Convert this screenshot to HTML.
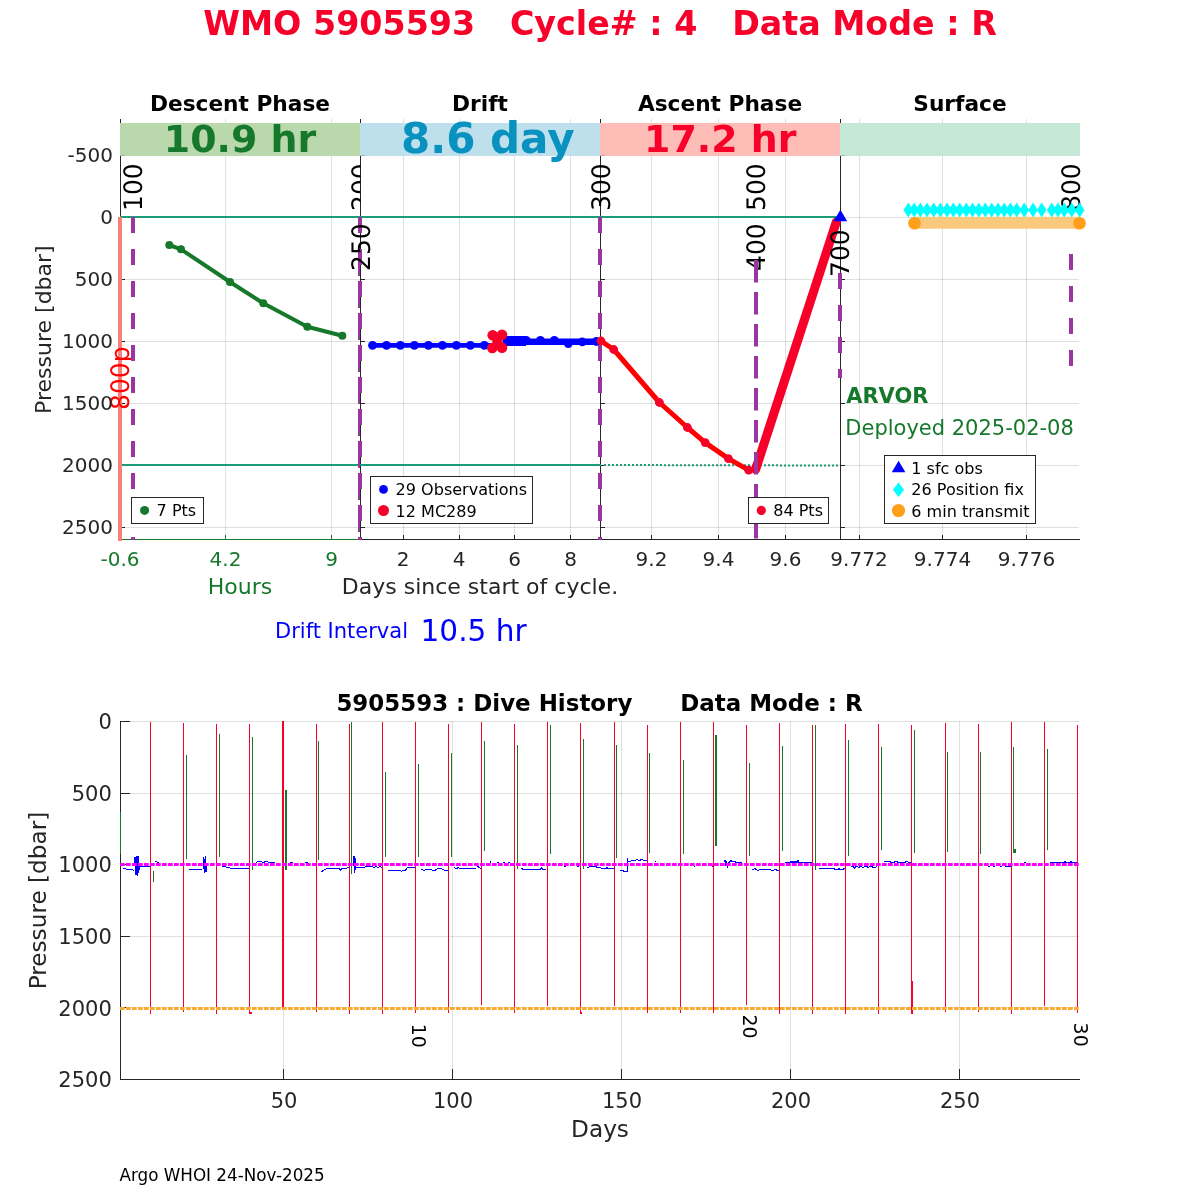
<!DOCTYPE html>
<html lang="en"><head><meta charset="utf-8"><title>WMO 5905593 Cycle 4</title>
<style>html,body{margin:0;padding:0;background:#fff}svg{display:block;will-change:transform}</style></head>
<body>
<svg width="1200" height="1200" viewBox="0 0 1200 1200" font-family="'DejaVu Sans', 'Liberation Sans', sans-serif">
<rect width="1200" height="1200" fill="#fff"/>
<text x="600" y="35" text-anchor="middle" font-size="33.3" font-weight="bold" fill="#f7002a" xml:space="preserve">WMO 5905593   Cycle# : 4   Data Mode : R</text>
<text x="240" y="111" text-anchor="middle" font-size="21.7" font-weight="bold" fill="#000">Descent Phase</text>
<text x="480" y="111" text-anchor="middle" font-size="21.7" font-weight="bold" fill="#000">Drift</text>
<text x="720" y="111" text-anchor="middle" font-size="21.7" font-weight="bold" fill="#000">Ascent Phase</text>
<text x="960" y="111" text-anchor="middle" font-size="21.7" font-weight="bold" fill="#000">Surface</text>
<g stroke="#262626" stroke-opacity="0.15" stroke-width="1" shape-rendering="crispEdges">
<line x1="120" x2="1079" y1="155.5" y2="155.5"/>
<line x1="120" x2="1079" y1="217.5" y2="217.5"/>
<line x1="120" x2="1079" y1="279.5" y2="279.5"/>
<line x1="120" x2="1079" y1="341.5" y2="341.5"/>
<line x1="120" x2="1079" y1="403.5" y2="403.5"/>
<line x1="120" x2="1079" y1="465.5" y2="465.5"/>
<line x1="120" x2="1079" y1="527.5" y2="527.5"/>
<line x1="403.5" x2="403.5" y1="119" y2="540"/>
<line x1="459.5" x2="459.5" y1="119" y2="540"/>
<line x1="514.5" x2="514.5" y1="119" y2="540"/>
<line x1="570.5" x2="570.5" y1="119" y2="540"/>
<line x1="651.5" x2="651.5" y1="119" y2="540"/>
<line x1="718.5" x2="718.5" y1="119" y2="540"/>
<line x1="785.5" x2="785.5" y1="119" y2="540"/>
<line x1="859.5" x2="859.5" y1="119" y2="540"/>
<line x1="942.5" x2="942.5" y1="119" y2="540"/>
<line x1="1026.5" x2="1026.5" y1="119" y2="540"/>
</g>
<g stroke="#15782b" stroke-opacity="0.17" stroke-width="1" shape-rendering="crispEdges">
<line x1="225.5" x2="225.5" y1="119" y2="540"/>
<line x1="331.5" x2="331.5" y1="119" y2="540"/>
</g>
<g stroke="#262626" stroke-width="1" shape-rendering="crispEdges">
<line x1="120.5" x2="120.5" y1="119" y2="540"/>
<line x1="360.5" x2="360.5" y1="119" y2="540"/>
<line x1="600.5" x2="600.5" y1="119" y2="540"/>
<line x1="840.5" x2="840.5" y1="119" y2="540"/>
<line x1="360" x2="1080" y1="539.5" y2="539.5"/>
<line x1="120" x2="125" y1="155.5" y2="155.5"/>
<line x1="120" x2="125" y1="217.5" y2="217.5"/>
<line x1="120" x2="125" y1="279.5" y2="279.5"/>
<line x1="120" x2="125" y1="341.5" y2="341.5"/>
<line x1="120" x2="125" y1="403.5" y2="403.5"/>
<line x1="120" x2="125" y1="465.5" y2="465.5"/>
<line x1="120" x2="125" y1="527.5" y2="527.5"/>
<line x1="360" x2="365" y1="155.5" y2="155.5"/>
<line x1="360" x2="365" y1="217.5" y2="217.5"/>
<line x1="360" x2="365" y1="279.5" y2="279.5"/>
<line x1="360" x2="365" y1="341.5" y2="341.5"/>
<line x1="360" x2="365" y1="403.5" y2="403.5"/>
<line x1="360" x2="365" y1="465.5" y2="465.5"/>
<line x1="360" x2="365" y1="527.5" y2="527.5"/>
<line x1="600" x2="605" y1="155.5" y2="155.5"/>
<line x1="600" x2="605" y1="217.5" y2="217.5"/>
<line x1="600" x2="605" y1="279.5" y2="279.5"/>
<line x1="600" x2="605" y1="341.5" y2="341.5"/>
<line x1="600" x2="605" y1="403.5" y2="403.5"/>
<line x1="600" x2="605" y1="465.5" y2="465.5"/>
<line x1="600" x2="605" y1="527.5" y2="527.5"/>
<line x1="840" x2="845" y1="155.5" y2="155.5"/>
<line x1="840" x2="845" y1="217.5" y2="217.5"/>
<line x1="840" x2="845" y1="279.5" y2="279.5"/>
<line x1="840" x2="845" y1="341.5" y2="341.5"/>
<line x1="840" x2="845" y1="403.5" y2="403.5"/>
<line x1="840" x2="845" y1="465.5" y2="465.5"/>
<line x1="840" x2="845" y1="527.5" y2="527.5"/>
<line x1="403.5" x2="403.5" y1="535" y2="539"/>
<line x1="459.5" x2="459.5" y1="535" y2="539"/>
<line x1="514.5" x2="514.5" y1="535" y2="539"/>
<line x1="570.5" x2="570.5" y1="535" y2="539"/>
<line x1="651.5" x2="651.5" y1="535" y2="539"/>
<line x1="718.5" x2="718.5" y1="535" y2="539"/>
<line x1="785.5" x2="785.5" y1="535" y2="539"/>
<line x1="859.5" x2="859.5" y1="535" y2="539"/>
<line x1="942.5" x2="942.5" y1="535" y2="539"/>
<line x1="1026.5" x2="1026.5" y1="535" y2="539"/>
</g>
<g stroke="#15782b" stroke-width="1" shape-rendering="crispEdges">
<line x1="120" x2="360" y1="539.5" y2="539.5"/>
<line x1="120.5" x2="120.5" y1="535" y2="539"/>
<line x1="225.5" x2="225.5" y1="535" y2="539"/>
<line x1="331.5" x2="331.5" y1="535" y2="539"/>
</g>
<rect x="120" y="123" width="240" height="32.8" fill="#b9d9ad"/>
<rect x="360" y="123" width="240" height="32.8" fill="#bde0ec"/>
<rect x="600" y="123" width="240" height="32.8" fill="#fdbcb6"/>
<rect x="840" y="123" width="240" height="32.8" fill="#c5e8d6"/>
<text x="240" y="152" text-anchor="middle" font-size="37.9" font-weight="bold" fill="#15782b">10.9 hr</text>
<text x="487.8" y="153.3" text-anchor="middle" font-size="42" font-weight="bold" fill="#0991bf">8.6 day</text>
<text x="720.2" y="152" text-anchor="middle" font-size="37.9" font-weight="bold" fill="#f7002a">17.2 hr</text>
<line x1="120" x2="840" y1="217" y2="217" stroke="#1b9c78" stroke-width="2"/>
<line x1="120" x2="601" y1="465" y2="465" stroke="#1b9c78" stroke-width="2"/>
<line x1="604" x2="838" y1="465" y2="465.5" stroke="#1b9c78" stroke-width="2" stroke-dasharray="2 2"/>
<line x1="120" x2="120" y1="217" y2="541" stroke="#f9807a" stroke-width="4"/>
<defs><clipPath id="c200"><rect x="100" y="100" width="260.5" height="450"/></clipPath><clipPath id="c800"><rect x="840" y="100" width="240.5" height="450"/></clipPath></defs>
<g><text transform="translate(765.2,271) rotate(-90) scale(1,1.02)" text-rendering="geometricPrecision" font-size="25" fill="#000">400</text></g>
<g><text transform="translate(1080.2,211) rotate(-90) scale(1,1.02)" text-rendering="geometricPrecision" font-size="25" fill="#000">800</text></g>
<polyline fill="none" stroke="#15782b" stroke-width="4" stroke-linejoin="round" points="169.3,245 181,249.3 230,282 263.3,303.3 307.3,326.7 342.3,335.7"/>
<circle cx="169.3" cy="245" r="4" fill="#15782b"/>
<circle cx="181" cy="249.3" r="4" fill="#15782b"/>
<circle cx="230" cy="282" r="4" fill="#15782b"/>
<circle cx="263.3" cy="303.3" r="4" fill="#15782b"/>
<circle cx="307.3" cy="326.7" r="4" fill="#15782b"/>
<circle cx="342.3" cy="335.7" r="4" fill="#15782b"/>
<line x1="372.5" x2="492" y1="345.4" y2="345.4" stroke="#0000ff" stroke-width="4.6"/>
<line x1="503" x2="597" y1="341.7" y2="341.7" stroke="#0000ff" stroke-width="6.4"/>
<line x1="503" x2="526" y1="341" y2="341" stroke="#0000ff" stroke-width="10"/>
<circle cx="372.5" cy="345.3" r="4.4" fill="#0000ff"/>
<circle cx="386.5" cy="345.3" r="4.4" fill="#0000ff"/>
<circle cx="400.4" cy="345.3" r="4.4" fill="#0000ff"/>
<circle cx="414.4" cy="345.3" r="4.4" fill="#0000ff"/>
<circle cx="428.4" cy="345.3" r="4.4" fill="#0000ff"/>
<circle cx="442.4" cy="345.3" r="4.4" fill="#0000ff"/>
<circle cx="456.4" cy="345.3" r="4.4" fill="#0000ff"/>
<circle cx="470.4" cy="345.3" r="4.4" fill="#0000ff"/>
<circle cx="484.4" cy="345.3" r="4.4" fill="#0000ff"/>
<circle cx="526.25" cy="340.3" r="4.4" fill="#0000ff"/>
<circle cx="540.4" cy="340.3" r="4.4" fill="#0000ff"/>
<circle cx="554.3" cy="340.3" r="4.4" fill="#0000ff"/>
<circle cx="568.3" cy="343.6" r="4.4" fill="#0000ff"/>
<circle cx="582.3" cy="341.9" r="4.4" fill="#0000ff"/>
<circle cx="596.25" cy="341.5" r="4.4" fill="#0000ff"/>
<circle cx="492.7" cy="335.2" r="5.3" fill="#f7002a"/>
<circle cx="502" cy="334.7" r="5.3" fill="#f7002a"/>
<circle cx="492.3" cy="348" r="5.3" fill="#f7002a"/>
<circle cx="502" cy="347.8" r="5.3" fill="#f7002a"/>
<circle cx="497.5" cy="341.5" r="5.3" fill="#f7002a"/>
<polyline fill="none" stroke="#ff0000" stroke-width="5" stroke-linejoin="round" points="601,341 613.7,349.5 659.4,402.5 687.4,427.5 705.2,442.6 728.4,458.6 748.7,470.2"/>
<circle cx="601" cy="341" r="4.4" fill="#f7002a"/>
<circle cx="613.7" cy="349.5" r="4.4" fill="#f7002a"/>
<circle cx="659.4" cy="402.5" r="4.4" fill="#f7002a"/>
<circle cx="687.4" cy="427.5" r="4.4" fill="#f7002a"/>
<circle cx="705.2" cy="442.6" r="4.4" fill="#f7002a"/>
<circle cx="728.4" cy="458.6" r="4.4" fill="#f7002a"/>
<circle cx="748.7" cy="470.2" r="4.4" fill="#f7002a"/>
<line x1="755.6" y1="469.5" x2="836.3" y2="222" stroke="#f7002a" stroke-width="9" stroke-linecap="round"/>
<g><text transform="translate(129.3,410) rotate(-90) scale(1,1.02)" text-rendering="geometricPrecision" font-size="25" fill="#ff0000">800p</text></g>
<line x1="133" x2="133" y1="217" y2="540" stroke="#9b35a0" stroke-width="4" stroke-dasharray="16 16"/>
<path d="M359 217V233M359 249V276M359 281V308M359 313V340M359 345V372M359 377V404M359 409V436M359 441V468M359 473V500M359 505V532M359 537V540" stroke="#9b35a0" stroke-width="2" fill="none"/>
<line x1="361" x2="361" y1="217" y2="540" stroke="#9b35a0" stroke-width="2" stroke-dasharray="16 16"/>
<line x1="600" x2="600" y1="217" y2="540" stroke="#9b35a0" stroke-width="4" stroke-dasharray="16 16"/>
<line x1="756" x2="756" y1="260" y2="540" stroke="#9b35a0" stroke-width="4" stroke-dasharray="22.5 9.5"/>
<line x1="840" x2="840" y1="273" y2="378" stroke="#9b35a0" stroke-width="4" stroke-dasharray="16 16"/>
<line x1="1071" x2="1071" y1="254" y2="366" stroke="#9b35a0" stroke-width="4" stroke-dasharray="16 16"/>
<g><text transform="translate(142,211) rotate(-90) scale(1,1.02)" text-rendering="geometricPrecision" font-size="25" fill="#000">100</text></g>
<g clip-path="url(#c200)"><text transform="translate(369.5,211) rotate(-90) scale(1,1.02)" text-rendering="geometricPrecision" font-size="25" fill="#000">200</text></g>
<g><text transform="translate(369.5,271) rotate(-90) scale(1,1.02)" text-rendering="geometricPrecision" font-size="25" fill="#000">250</text></g>
<g><text transform="translate(609.5,211) rotate(-90) scale(1,1.02)" text-rendering="geometricPrecision" font-size="25" fill="#000">300</text></g>
<g><text transform="translate(765.2,211) rotate(-90) scale(1,1.02)" text-rendering="geometricPrecision" font-size="25" fill="#000">500</text></g>
<g><text transform="translate(849,277) rotate(-90) scale(1,1.02)" text-rendering="geometricPrecision" font-size="25" fill="#000">700</text></g>
<polygon points="833.5,221.3 847.2,221.3 840.4,209.8" fill="#0000ff"/>
<line x1="914.5" x2="1079.5" y1="222.8" y2="222.8" stroke="#fbc97c" stroke-width="12"/>
<circle cx="914.5" cy="223.2" r="6.3" fill="#ff9f1a"/><circle cx="1079.5" cy="223.2" r="6.3" fill="#ff9f1a"/>
<path d="M903.5 210L908.3 202.5L913.1 210L908.3 217.5ZM909.4 210L914.2 202.5L919.0 210L914.2 217.5ZM915.5 210L920.3 202.5L925.1 210L920.3 217.5ZM922.2 210L927.0 202.5L931.8 210L927.0 217.5ZM928.9 210L933.7 202.5L938.5 210L933.7 217.5ZM935.5 210L940.3 202.5L945.1 210L940.3 217.5ZM942.2 210L947.0 202.5L951.8 210L947.0 217.5ZM948.5 210L953.3 202.5L958.1 210L953.3 217.5ZM954.9 210L959.7 202.5L964.5 210L959.7 217.5ZM961.5 210L966.3 202.5L971.1 210L966.3 217.5ZM967.7 210L972.5 202.5L977.3 210L972.5 217.5ZM974.0 210L978.8 202.5L983.6 210L978.8 217.5ZM980.5 210L985.3 202.5L990.1 210L985.3 217.5ZM986.9 210L991.7 202.5L996.5 210L991.7 217.5ZM993.2 210L998.0 202.5L1002.8 210L998.0 217.5ZM999.4 210L1004.2 202.5L1009.0 210L1004.2 217.5ZM1005.5 210L1010.3 202.5L1015.1 210L1010.3 217.5ZM1011.9 210L1016.7 202.5L1021.5 210L1016.7 217.5ZM1019.4 210L1024.2 202.5L1029.0 210L1024.2 217.5ZM1028.2 210L1033.0 202.5L1037.8 210L1033.0 217.5ZM1036.9 210L1041.7 202.5L1046.5 210L1041.7 217.5ZM1046.9 210L1051.7 202.5L1056.5 210L1051.7 217.5ZM1053.2 210L1058.0 202.5L1062.8 210L1058.0 217.5ZM1059.4 210L1064.2 202.5L1069.0 210L1064.2 217.5ZM1066.9 210L1071.7 202.5L1076.5 210L1071.7 217.5ZM1074.9 210L1079.7 202.5L1084.5 210L1079.7 217.5Z" fill="#00ffff"/>
<text x="846.2" y="402.7" font-size="21" font-weight="bold" fill="#15782b">ARVOR</text>
<text x="845.3" y="434.7" font-size="21" fill="#15782b">Deployed 2025-02-08</text>
<rect x="131.5" y="497.5" width="72" height="26" fill="#fff" stroke="#262626" stroke-width="1" shape-rendering="crispEdges"/>
<circle cx="144.6" cy="510.4" r="4.5" fill="#15782b"/>
<text x="156.6" y="516" font-size="16.05" fill="#000">7 Pts</text>
<rect x="370.5" y="476.5" width="162" height="47" fill="#fff" stroke="#262626" stroke-width="1" shape-rendering="crispEdges"/>
<circle cx="383.5" cy="489.4" r="4.4" fill="#0000ff"/>
<text x="395.6" y="495" font-size="16.05" fill="#000">29 Observations</text>
<circle cx="383.5" cy="510.5" r="5.5" fill="#f7002a"/>
<text x="395.6" y="516.7" font-size="16.05" fill="#000">12 MC289</text>
<rect x="748.5" y="497.5" width="80" height="26" fill="#fff" stroke="#262626" stroke-width="1" shape-rendering="crispEdges"/>
<circle cx="761.3" cy="510.4" r="4.6" fill="#f7002a"/>
<text x="773.2" y="516" font-size="16.05" fill="#000">84 Pts</text>
<rect x="884.5" y="455.5" width="151" height="68" fill="#fff" stroke="#262626" stroke-width="1" shape-rendering="crispEdges"/>
<polygon points="891.8,472.2 905.4,472.2 898.6,460.8" fill="#0000ff"/>
<text x="911.3" y="474.3" font-size="16.05" fill="#000">1 sfc obs</text>
<polygon points="892.9,489.7 898.5,482.5 904.1,489.7 898.5,496.9" fill="#00ffff"/>
<text x="911.3" y="495.4" font-size="16.05" fill="#000">26 Position fix</text>
<circle cx="898.5" cy="510.5" r="6.6" fill="#ff9f1a"/>
<text x="911.3" y="517.1" font-size="16.05" fill="#000">6 min transmit</text>
<g font-size="20" fill="#262626" text-anchor="end">
<text x="113" y="162.4">-500</text>
<text x="113" y="224.4">0</text>
<text x="113" y="286.4">500</text>
<text x="113" y="348.4">1000</text>
<text x="113" y="410.4">1500</text>
<text x="113" y="472.4">2000</text>
<text x="113" y="534.4">2500</text>
</g>
<g font-size="20" fill="#262626" text-anchor="middle">
<text x="403" y="566">2</text>
<text x="459" y="566">4</text>
<text x="514.5" y="566">6</text>
<text x="570.5" y="566">8</text>
<text x="651.5" y="566">9.2</text>
<text x="718.5" y="566">9.4</text>
<text x="785.5" y="566">9.6</text>
<text x="859" y="566">9.772</text>
<text x="942.5" y="566">9.774</text>
<text x="1026.5" y="566">9.776</text>
</g>
<g font-size="20" fill="#15782b" text-anchor="middle">
<text x="120" y="566">-0.6</text>
<text x="225.5" y="566">4.2</text>
<text x="331.5" y="566">9</text>
</g>
<text x="240" y="594" text-anchor="middle" font-size="22" fill="#15782b">Hours</text>
<text x="480" y="594" text-anchor="middle" font-size="22" fill="#262626">Days since start of cycle.</text>
<text transform="translate(50.8,329.6) rotate(-90)" text-anchor="middle" font-size="22" fill="#262626">Pressure [dbar]</text>
<text x="275" y="638" font-size="21" fill="#0000ff">Drift Interval</text>
<text x="420.5" y="640.5" font-size="29.6" fill="#0000ff">10.5 hr</text>
<text x="599.5" y="710.8" text-anchor="middle" font-size="22.95" font-weight="bold" fill="#000" xml:space="preserve">5905593 : Dive History      Data Mode : R</text>
<g stroke="#262626" stroke-opacity="0.15" stroke-width="1" shape-rendering="crispEdges">
<line x1="120" x2="1079" y1="721.5" y2="721.5"/>
<line x1="120" x2="1079" y1="793.5" y2="793.5"/>
<line x1="120" x2="1079" y1="864.5" y2="864.5"/>
<line x1="120" x2="1079" y1="936.5" y2="936.5"/>
<line x1="120" x2="1079" y1="1007.5" y2="1007.5"/>
<line x1="283.5" x2="283.5" y1="721" y2="1079"/>
<line x1="452.5" x2="452.5" y1="721" y2="1079"/>
<line x1="621.5" x2="621.5" y1="721" y2="1079"/>
<line x1="790.5" x2="790.5" y1="721" y2="1079"/>
<line x1="959.5" x2="959.5" y1="721" y2="1079"/>
</g>
<g stroke="#262626" stroke-width="1" shape-rendering="crispEdges">
<line x1="120.5" x2="120.5" y1="721" y2="1080"/>
<line x1="120" x2="1080" y1="1079.5" y2="1079.5"/>
<line x1="120" x2="130" y1="721.5" y2="721.5"/>
<line x1="120" x2="130" y1="793.5" y2="793.5"/>
<line x1="120" x2="130" y1="864.5" y2="864.5"/>
<line x1="120" x2="130" y1="936.5" y2="936.5"/>
<line x1="120" x2="130" y1="1007.5" y2="1007.5"/>
<line x1="120" x2="130" y1="1079.5" y2="1079.5"/>
<line x1="283.5" x2="283.5" y1="1069" y2="1079"/>
<line x1="452.5" x2="452.5" y1="1069" y2="1079"/>
<line x1="621.5" x2="621.5" y1="1069" y2="1079"/>
<line x1="790.5" x2="790.5" y1="1069" y2="1079"/>
<line x1="959.5" x2="959.5" y1="1069" y2="1079"/>
</g>
<g fill="#15782b" shape-rendering="crispEdges">
<rect x="120" y="812" width="1" height="41.7"/>
<rect x="153" y="871" width="1" height="10.7"/>
<rect x="186" y="755" width="1" height="103.7"/>
<rect x="219" y="734" width="1" height="122.7"/>
<rect x="252" y="737" width="1" height="132.7"/>
<rect x="285" y="790" width="2" height="79.7"/>
<rect x="318" y="741" width="1" height="118.7"/>
<rect x="351" y="722" width="1" height="151.7"/>
<rect x="385" y="772" width="1" height="84.7"/>
<rect x="418" y="764" width="1" height="92.7"/>
<rect x="451" y="753" width="1" height="103.7"/>
<rect x="484" y="741" width="1" height="109.6"/>
<rect x="517" y="745" width="1" height="123.7"/>
<rect x="550" y="725" width="1" height="128.7"/>
<rect x="583" y="739" width="1" height="129.7"/>
<rect x="616" y="745" width="1" height="112.7"/>
<rect x="649" y="753" width="1" height="99.6"/>
<rect x="683" y="760" width="1" height="93.7"/>
<rect x="715" y="735" width="2" height="110.7"/>
<rect x="749" y="763" width="1" height="92.7"/>
<rect x="782" y="746" width="1" height="104.6"/>
<rect x="815" y="725" width="1" height="144.7"/>
<rect x="848" y="740" width="1" height="115.7"/>
<rect x="881" y="747" width="1" height="102.7"/>
<rect x="914" y="730" width="1" height="122.5"/>
<rect x="947" y="752" width="1" height="99.7"/>
<rect x="980" y="752" width="1" height="101.5"/>
<rect x="1013" y="747" width="1" height="105.5"/>
<rect x="1047" y="749" width="1" height="100.5"/>
<rect x="1014" y="848.5" width="2" height="4"/>
</g>
<g fill="#f7002a" shape-rendering="crispEdges">
<rect x="150" y="722" width="1" height="291.6"/>
<rect x="183" y="723" width="1" height="288.6"/>
<rect x="216" y="724" width="1" height="289.6"/>
<rect x="249" y="724" width="1" height="289.6"/>
<rect x="282" y="721" width="2" height="286.0"/>
<rect x="316" y="724" width="1" height="288.4"/>
<rect x="349" y="724" width="1" height="289.6"/>
<rect x="382" y="722" width="1" height="291.6"/>
<rect x="415" y="722" width="1" height="290.5"/>
<rect x="448" y="724" width="1" height="288.5"/>
<rect x="481" y="722" width="1" height="282.5"/>
<rect x="514" y="724" width="1" height="288.5"/>
<rect x="547" y="722" width="1" height="283.5"/>
<rect x="580" y="723" width="1" height="289.5"/>
<rect x="614" y="722" width="1" height="283.5"/>
<rect x="647" y="725" width="1" height="287.5"/>
<rect x="680" y="722" width="1" height="290.5"/>
<rect x="713" y="722" width="1" height="290.5"/>
<rect x="746" y="725" width="1" height="279.5"/>
<rect x="779" y="723" width="1" height="290.6"/>
<rect x="812" y="725" width="1" height="288.6"/>
<rect x="845" y="724" width="1" height="289.6"/>
<rect x="878" y="724" width="1" height="289.6"/>
<rect x="911" y="725" width="1" height="288.8"/>
<rect x="945" y="723" width="1" height="289.0"/>
<rect x="978" y="724" width="1" height="288.0"/>
<rect x="1011" y="722" width="1" height="291.6"/>
<rect x="1044" y="722" width="1" height="283.5"/>
<rect x="1077" y="725" width="1" height="287.5"/>
<rect x="911" y="981" width="2" height="33"/>
<rect x="250" y="1011.5" width="2" height="2"/><rect x="580" y="1011.5" width="2" height="2"/>
</g>
<g stroke-linejoin="round" shape-rendering="crispEdges">
<polyline fill="none" stroke="#0000ff" stroke-width="1" points="123,868.7 128,869.3 133,870 134.3,870"/>
<polyline fill="none" stroke="#0000ff" stroke-width="1.4" points="135,866 135,858 136,874 136.5,857 137.5,875.5 138,857 138.7,872 139,866"/>
<polyline fill="none" stroke="#0000ff" stroke-width="1" points="139,866.3 150,866.3"/>
<polyline fill="none" stroke="#0000ff" stroke-width="1" points="155,861.3 157,862 160,863.5"/>
<polyline fill="none" stroke="#0000ff" stroke-width="1" points="189,869.4 191,870 196,869.2 202,869"/>
<polyline fill="none" stroke="#0000ff" stroke-width="1.4" points="203.5,869 203.7,858 204.5,872.7 205.3,857 206,871 206.3,865"/>
<polyline fill="none" stroke="#0000ff" stroke-width="1" points="222.3,866.3 226,867 230,868 235,868.7 249,868.7"/>
<polyline fill="none" stroke="#0000ff" stroke-width="1" points="256.3,862.5 258,861.5 261,861.7 263,862.3 266,861.7 270,862.3 275,862.6"/>
<polyline fill="none" stroke="#0000ff" stroke-width="1" points="290,862.2 293,862.2"/>
<polyline fill="none" stroke="#0000ff" stroke-width="1" points="305,862.2 308,862.2"/>
<polyline fill="none" stroke="#0000ff" stroke-width="1" points="321.4,872.3 323,870.5 326.3,869 333,868.5 339,868.5 340.5,870 342,868.7 346,868.3 349,867.5"/>
<polyline fill="none" stroke="#0000ff" stroke-width="1.4" points="353.7,866 354,857 354.6,872.7 355,859 355.4,869 356,867"/>
<polyline fill="none" stroke="#0000ff" stroke-width="1" points="356,867 365,867 372,866.3 374,867.5 376,866.3 378,867.7 380,866.5 382,867.5"/>
<polyline fill="none" stroke="#0000ff" stroke-width="1" points="388,870.3 400,870.3 401.5,871.2 403,870.3 405.7,870.3 406.7,868 408.3,867.4 415,867.4"/>
<polyline fill="none" stroke="#0000ff" stroke-width="1" points="421.3,869.4 424,870.2 427,869.6 431,869.6 433,870.3 435,870.3 438,868.6 441,868.6 443,869.6 445,870.3 448,870.3"/>
<polyline fill="none" stroke="#0000ff" stroke-width="1" points="454.3,867.7 456,868.7 458,867.7 460,868.6 463,868.6 475,868.6 476.5,867.5 477.7,866.3 479,867.5 481,868.6"/>
<polyline fill="none" stroke="#0000ff" stroke-width="1" points="490,862.5 490.5,861.5 491.2,862.5"/>
<polyline fill="none" stroke="#0000ff" stroke-width="1" points="497,862.4 498.5,862.4"/>
<polyline fill="none" stroke="#0000ff" stroke-width="1" points="503,862.4 504.5,862.4"/>
<polyline fill="none" stroke="#0000ff" stroke-width="1" points="508,862.4 509.5,862.4"/>
<polyline fill="none" stroke="#0000ff" stroke-width="1" points="521.4,868.3 523,869.3 540.5,869.3 541.5,868 542.5,869.3 545.7,869.3"/>
<polyline fill="none" stroke="#0000ff" stroke-width="1" points="564,866.5 566,866.5"/>
<polyline fill="none" stroke="#0000ff" stroke-width="1" points="577,866.5 579,866.5"/>
<polyline fill="none" stroke="#0000ff" stroke-width="1" points="587,867.4 590,866.8 595,866.3 597,867.3 600,867.3 601,868.3 606,868.3 607,867.8 609,868.5 613.5,868.5"/>
<polyline fill="none" stroke="#0000ff" stroke-width="1" points="620.3,870 623.7,870 624,871.4 627.4,871.4 627.4,858 628,861.7 630,861.7 632,860.5 635,860.5 637,859.4 639,860.3 642,859.7 644,860.5 647,860.3"/>
<polyline fill="none" stroke="#0000ff" stroke-width="1" points="655,862.3 655.7,861.5 656.5,862.3"/>
<polyline fill="none" stroke="#0000ff" stroke-width="1" points="693.5,866.4 695,866.4"/>
<polyline fill="none" stroke="#0000ff" stroke-width="1" points="711.5,866.4 713,866.4"/>
<polyline fill="none" stroke="#0000ff" stroke-width="1.2" points="724.3,862 725,860.3 725.8,865 726.5,862 727.3,867.7 728.3,864 729.5,862 730.5,860.7 733,861.3 736,862.3 742,862.5"/>
<polyline fill="none" stroke="#0000ff" stroke-width="1" points="752.3,869.7 755,868.7 757,870.2 759,870.2 761,869 763,869.3 770,869.3 771,870.3 774,870.3 775,869.3 777,870.3 779,870.3"/>
<polyline fill="none" stroke="#0000ff" stroke-width="1.4" points="785,862.3 790,862.3 791,861.8 797,862.2 798,860.8 799,862.2 812,862.2"/>
<polyline fill="none" stroke="#0000ff" stroke-width="1" points="819,868.5 834,868.5 835,869.6 838,869.6 839,868.5 840,869.6 843,869.6 844,868.5 845,868"/>
<polyline fill="none" stroke="#0000ff" stroke-width="1" points="851,867 853,866.4 854.5,868 856,866.6 859,867.2 861,866.3 863,867.5 866,866.4 868,867.2 871,866.4 874,867.6 877,866.5"/>
<polyline fill="none" stroke="#0000ff" stroke-width="1" points="884,861.3 890,861.3 891,862.5 894,862.5 895,861.5 900,862.5 905,862.3 907,861.3 909,862.5 911,862.3"/>
<polyline fill="none" stroke="#0000ff" stroke-width="1" points="987.7,866.5 990,866.5"/>
<polyline fill="none" stroke="#0000ff" stroke-width="1" points="993,866.5 995,866.5"/>
<polyline fill="none" stroke="#0000ff" stroke-width="1" points="1000,866.3 1002,866.3"/>
<polyline fill="none" stroke="#0000ff" stroke-width="1" points="1005,866.6 1011,866.6"/>
<polyline fill="none" stroke="#0000ff" stroke-width="1" points="1024.5,862.6 1025,861.8 1025.8,862.6"/>
<polyline fill="none" stroke="#0000ff" stroke-width="1.3" points="1050,862.4 1054,862.2 1057,862.6 1064,862.2 1065,861.5 1066,862.3 1070,862.2 1071,861.4 1072,862.3 1077,862.3"/>
</g>
<line x1="120" x2="1080" y1="864.5" y2="864.5" stroke="#ff00ff" stroke-width="3" stroke-dasharray="4.7 1.3"/>
<line x1="120" x2="1080" y1="1008.4" y2="1008.4" stroke="#fdab30" stroke-width="3" stroke-dasharray="4.7 1.3"/>
<text transform="translate(411.75,1023.7) rotate(90)" font-size="19" fill="#000">10</text>
<text transform="translate(742.75,1014.5) rotate(90)" font-size="19" fill="#000">20</text>
<text transform="translate(1073.6,1022.6) rotate(90)" font-size="19" fill="#000">30</text>
<g font-size="21" fill="#262626" text-anchor="end">
<text x="111.8" y="729.2">0</text>
<text x="111.8" y="800.8">500</text>
<text x="111.8" y="872.4">1000</text>
<text x="111.8" y="944.0">1500</text>
<text x="111.8" y="1015.6">2000</text>
<text x="111.8" y="1087.2">2500</text>
</g>
<g font-size="21" fill="#262626" text-anchor="middle">
<text x="284.0" y="1108.2">50</text>
<text x="453.0" y="1108.2">100</text>
<text x="622.0" y="1108.2">150</text>
<text x="791.0" y="1108.2">200</text>
<text x="960.0" y="1108.2">250</text>
</g>
<text x="600" y="1137" text-anchor="middle" font-size="23.2" fill="#262626">Days</text>
<text transform="translate(46.2,900.5) rotate(-90)" text-anchor="middle" font-size="23.2" fill="#262626">Pressure [dbar]</text>
<text x="119.5" y="1181.3" font-size="16.75" fill="#000">Argo WHOI 24-Nov-2025</text>
</svg>
</body></html>
